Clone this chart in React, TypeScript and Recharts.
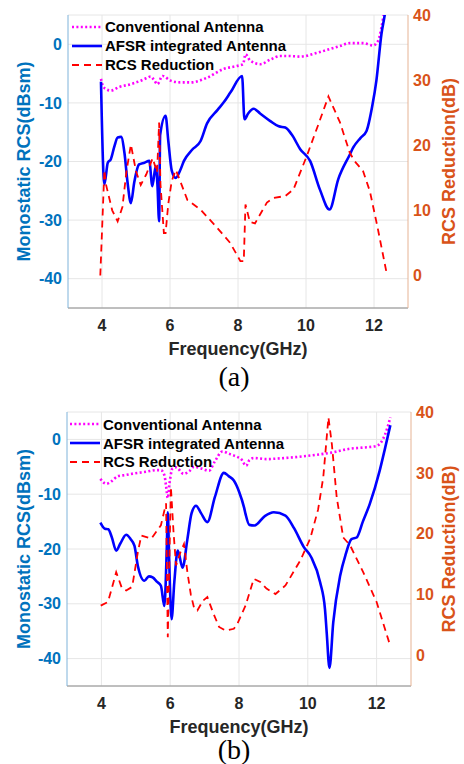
import { CartesianGrid, Legend, Line, LineChart, XAxis, YAxis } from 'recharts';

const X_TICKS = [4, 6, 8, 10, 12];
const LEFT_TICKS = [-40, -30, -20, -10, 0];
const RIGHT_TICKS = [0, 10, 20, 30, 40];
const NAMES = ['Conventional Antenna', 'AFSR integrated Antenna', 'RCS Reduction'];

// panel (a): [frequency GHz, value]
const convA: [number, number][] = [
    [3.97, -5.9], [4.02, -7.0], [4.1, -7.6], [4.26, -7.9], [4.5, -7.3], [4.85, -6.8], [5.1, -6.3],
    [5.3, -5.8], [5.43, -5.5], [5.52, -6.0], [5.63, -6.8], [5.78, -5.4], [6.02, -6.2], [6.3, -6.5],
    [6.61, -6.5], [7.09, -5.7], [7.58, -4.2], [7.97, -3.7], [8.15, -3.4], [8.22, -1.7], [8.36, -2.8],
    [8.66, -3.4], [8.95, -2.6], [9.24, -2.0], [9.5, -2.0], [9.83, -2.1], [10.3, -1.5], [10.71, -0.8],
    [11.0, -0.3], [11.29, 0.2], [11.68, 0.2], [11.97, -0.2], [12.12, 0.6], [12.22, 2.9], [12.3, 5.5],
    [12.4, 8.0],
];
const afsrA: [number, number][] = [
    [3.97, -6.4], [4.07, -23.9], [4.17, -20.2], [4.26, -19.6], [4.36, -17.5], [4.46, -15.9],
    [4.56, -15.8], [4.66, -18.5], [4.75, -23.5], [4.85, -27.1], [4.95, -23.5], [5.09, -20.5],
    [5.25, -20.2], [5.39, -19.9], [5.48, -24.2], [5.58, -20.8], [5.63, -23.9], [5.68, -30.2],
    [5.71, -15.5], [5.87, -12.2], [5.95, -16.5], [6.05, -21.5], [6.17, -22.8], [6.3, -21.5],
    [6.41, -19.9], [6.65, -18.0], [6.9, -16.5], [7.09, -13.5], [7.4, -11.2], [7.58, -9.9],
    [7.78, -8.2], [8.12, -5.4], [8.19, -12.8], [8.3, -11.8], [8.46, -11.0], [8.65, -11.8],
    [8.95, -13.1], [9.2, -14.0], [9.39, -14.2], [9.58, -15.4], [9.83, -17.9], [10.12, -19.9],
    [10.41, -24.8], [10.69, -28.2], [10.95, -23.0], [11.29, -18.8], [11.39, -17.6], [11.6, -16.0],
    [11.78, -14.8], [11.95, -10.5], [12.07, -6.2], [12.22, 1.8], [12.32, 5.2], [12.4, 9.0],
];
const redA: [number, number][] = [
    [3.95, 0], [4.07, 16.2], [4.12, 13.9], [4.3, 10.0], [4.46, 8.3], [4.6, 10.5], [4.72, 16.0],
    [4.85, 20.1], [5.0, 16.0], [5.14, 13.9], [5.3, 15.5], [5.49, 18.0], [5.58, 16.5], [5.62, 15.8],
    [5.68, 23.5], [5.72, 14.0], [5.82, 6.5], [5.87, 6.5], [5.95, 11.0], [6.05, 14.5], [6.17, 16.2],
    [6.3, 14.5], [6.51, 11.6], [6.9, 10.1], [7.39, 7.3], [7.77, 5.0], [8.07, 2.2], [8.17, 2.2],
    [8.22, 10.9], [8.35, 8.2], [8.5, 8.0], [8.85, 11.2], [9.05, 11.9], [9.39, 12.2], [9.63, 13.2],
    [10.02, 18.3], [10.35, 23.0], [10.66, 27.5], [11.0, 23.5], [11.29, 18.8], [11.44, 17.5],
    [11.68, 16.0], [11.88, 12.9], [12.1, 7.5], [12.37, 0.4],
];

// panel (b)
const convB: [number, number][] = [
    [3.97, -7.2], [4.14, -8.1], [4.3, -7.6], [4.48, -6.7], [4.7, -6.5], [4.96, -6.2], [5.3, -5.9],
    [5.6, -5.6], [5.73, -5.6], [5.83, -6.5], [5.88, -8.5], [5.93, -10.7], [5.98, -8.0], [6.07, -5.3],
    [6.17, -5.1], [6.39, -6.3], [6.55, -5.8], [6.7, -5.0], [6.9, -5.3], [7.13, -5.7], [7.3, -4.0],
    [7.52, -2.2], [7.7, -2.6], [7.95, -3.2], [8.05, -3.5], [8.21, -4.8], [8.3, -3.8], [8.43, -3.4],
    [8.8, -3.6], [9.1, -3.5], [9.7, -3.2], [10.26, -2.8], [10.7, -2.4], [11.23, -1.7], [11.6, -1.5],
    [12.0, -1.2], [12.24, 0.8], [12.4, 4.0],
];
const afsrB: [number, number][] = [
    [3.97, -15.2], [4.1, -16.3], [4.2, -16.4], [4.3, -17.8], [4.43, -20.3], [4.55, -19.0],
    [4.72, -17.4], [4.85, -18.2], [4.96, -19.4], [5.06, -23.1], [5.25, -25.8], [5.38, -25.0],
    [5.49, -25.2], [5.62, -26.0], [5.73, -26.7], [5.83, -30.4], [5.9, -20.0], [5.93, -13.3],
    [5.97, -22.0], [6.04, -32.8], [6.12, -26.0], [6.22, -20.3], [6.36, -23.4], [6.5, -18.2],
    [6.62, -13.5], [6.75, -12.1], [6.9, -13.5], [7.08, -15.1], [7.3, -10.5], [7.56, -6.1],
    [7.7, -6.7], [7.85, -7.5], [8.0, -9.5], [8.15, -12.5], [8.19, -13.6], [8.3, -15.6],
    [8.45, -15.7], [8.75, -14.0], [9.01, -13.3], [9.35, -13.9], [9.6, -16.2], [9.88, -19.6],
    [10.1, -21.5], [10.36, -26.1], [10.5, -31.0], [10.55, -35.3], [10.63, -41.7], [10.74, -33.4],
    [10.94, -24.9], [11.1, -21.0], [11.27, -18.2], [11.42, -17.9], [11.6, -15.0], [11.8, -11.8],
    [12.09, -5.7], [12.25, -1.5], [12.4, 2.6],
];
const redB: [number, number][] = [
    [3.98, 8.2], [4.19, 8.8], [4.3, 11.0], [4.43, 13.7], [4.6, 11.0], [4.72, 10.7], [4.87, 11.2],
    [4.91, 11.8], [5.06, 17.0], [5.16, 19.7], [5.45, 19.2], [5.73, 21.4], [5.88, 25.0], [5.93, 3.0],
    [6.02, 27.7], [6.1, 20.0], [6.17, 14.8], [6.3, 17.0], [6.4, 18.3], [6.5, 13.7], [6.6, 10.0],
    [6.7, 7.7], [6.79, 7.4], [6.95, 9.0], [7.08, 9.6], [7.25, 7.0], [7.42, 4.7], [7.61, 4.1],
    [7.85, 4.4], [7.95, 5.2], [8.19, 8.2], [8.43, 12.6], [8.62, 12.1], [8.8, 11.0], [9.06, 10.1],
    [9.35, 11.5], [9.78, 15.6], [10.07, 19.2], [10.3, 24.0], [10.45, 29.3], [10.6, 39.1],
    [10.7, 34.7], [10.84, 26.0], [11.03, 19.4], [11.23, 18.1], [11.61, 13.7], [12.0, 8.8],
    [12.38, 1.9],
];

const toPts = (arr: [number, number][]) => arr.map(([f, v]) => ({ f, v }));

const FONT = '"Liberation Sans", Arial, sans-serif';
const BLUE = '#0072BD';
const ORANGE = '#D95319';

const LINE_STYLES = [
    { stroke: '#FF00FF', width: 2.6, dash: '2 2.4' },
    { stroke: '#0000FF', width: 2.6, dash: undefined as string | undefined },
    { stroke: '#FF0000', width: 1.8, dash: '7 5' },
];

const PanelLegend = ({ rowH }: { rowH: number }) => (
    <div style={{ fontFamily: FONT, fontWeight: 'bold', fontSize: 15, color: '#000' }}>
        {NAMES.map((name, i) => (
            <div key={name} style={{ display: 'flex', alignItems: 'center', height: rowH }}>
                <svg width={30} height={10} style={{ marginRight: 3 }}>
                    <line
                        x1={0}
                        y1={5}
                        x2={30}
                        y2={5}
                        stroke={LINE_STYLES[i].stroke}
                        strokeWidth={LINE_STYLES[i].width}
                        strokeDasharray={LINE_STYLES[i].dash}
                    />
                </svg>
                <span>{name}</span>
            </div>
        ))}
    </div>
);

interface PanelProps {
    top: number;
    height: number;
    leftW: number;
    rightW: number;
    legendLeft: number;
    legendTop: number;
    rowH: number;
    conv: [number, number][];
    afsr: [number, number][];
    red: [number, number][];
}

const tickStyle = (fill: string) => ({ fill, fontSize: 16, fontWeight: 'bold', fontFamily: FONT });

function Panel({ top, height, leftW, rightW, legendLeft, legendTop, rowH, conv, afsr, red }: PanelProps) {
    const series = [toPts(conv), toPts(afsr), toPts(red)];
    return (
        <div style={{ position: 'absolute', left: 0, top }}>
            <LineChart width={464} height={height} margin={{ top: 15, right: 0, left: 0, bottom: 0 }}>
                <CartesianGrid yAxisId="left" stroke="#e6e6e6" ticks={LEFT_TICKS} verticalValues={X_TICKS} />
                <XAxis
                    dataKey="f"
                    type="number"
                    domain={[3, 13]}
                    ticks={X_TICKS}
                    height={57}
                    tickSize={0}
                    tickMargin={12}
                    axisLine={{ stroke: '#8a8a8a' }}
                    tick={tickStyle('#262626')}
                    allowDuplicatedCategory={false}
                    label={{
                        value: 'Frequency(GHz)',
                        position: 'insideBottom',
                        offset: 10,
                        style: { fill: '#262626', fontSize: 18, fontWeight: 'bold', fontFamily: FONT },
                    }}
                />
                <XAxis
                    xAxisId="top"
                    orientation="top"
                    type="number"
                    domain={[3, 13]}
                    height={0}
                    tick={false}
                    tickLine={false}
                    axisLine={{ stroke: '#c4c4c4' }}
                />
                <YAxis
                    yAxisId="left"
                    type="number"
                    domain={[-45, 5]}
                    ticks={LEFT_TICKS}
                    allowDataOverflow
                    width={leftW}
                    tickSize={0}
                    tickMargin={6}
                    axisLine={{ stroke: '#7fb3da' }}
                    tick={tickStyle(BLUE)}
                    label={{
                        value: 'Monostatic RCS(dBsm)',
                        angle: -90,
                        position: 'insideLeft',
                        offset: 24,
                        style: { textAnchor: 'middle', fill: BLUE, fontSize: 18, fontWeight: 'bold', fontFamily: FONT },
                    }}
                />
                <YAxis
                    yAxisId="right"
                    orientation="right"
                    type="number"
                    domain={[-5, 40]}
                    ticks={RIGHT_TICKS}
                    allowDataOverflow
                    width={rightW}
                    tickSize={0}
                    tickMargin={5}
                    axisLine={{ stroke: '#e6b394' }}
                    tick={tickStyle(ORANGE)}
                    label={{
                        value: 'RCS Reduction(dB)',
                        angle: -90,
                        position: 'insideRight',
                        offset: 15,
                        style: { textAnchor: 'middle', fill: ORANGE, fontSize: 18, fontWeight: 'bold', fontFamily: FONT },
                    }}
                />
                <Legend
                    layout="vertical"
                    align="center"
                    verticalAlign="middle"
                    wrapperStyle={{ position: 'absolute', left: legendLeft, top: legendTop, width: 'auto' }}
                    content={() => <PanelLegend rowH={rowH} />}
                />
                {series.map((pts, i) => (
                    <Line
                        key={NAMES[i]}
                        name={NAMES[i]}
                        data={pts}
                        dataKey="v"
                        yAxisId={i === 2 ? 'right' : 'left'}
                        type={i === 2 ? 'linear' : 'monotone'}
                        stroke={LINE_STYLES[i].stroke}
                        strokeWidth={LINE_STYLES[i].width}
                        strokeDasharray={LINE_STYLES[i].dash}
                        dot={false}
                        activeDot={false}
                        isAnimationActive={false}
                    />
                ))}
            </LineChart>
        </div>
    );
}

const captionStyle = (top: number): React.CSSProperties => ({
    position: 'absolute',
    left: 184,
    width: 100,
    top,
    height: 28,
    textAlign: 'center',
    fontFamily: '"Liberation Serif", "Times New Roman", serif',
    fontSize: 28,
    lineHeight: '28px',
    color: '#000',
});

export default function App() {
    return (
        <div style={{ position: 'absolute', left: 0, top: 0, width: 464, height: 764, background: '#fff', overflow: 'hidden' }}>
            <Panel top={0} height={365} leftW={68} rightW={56} legendLeft={72} legendTop={17} rowH={19} conv={convA} afsr={afsrA} red={redA} />
            <div style={captionStyle(363)}>(a)</div>
            <Panel top={397} height={346} leftW={67} rightW={53} legendLeft={70} legendTop={18} rowH={18.7} conv={convB} afsr={afsrB} red={redB} />
            <div style={captionStyle(736)}>(b)</div>
        </div>
    );
}
